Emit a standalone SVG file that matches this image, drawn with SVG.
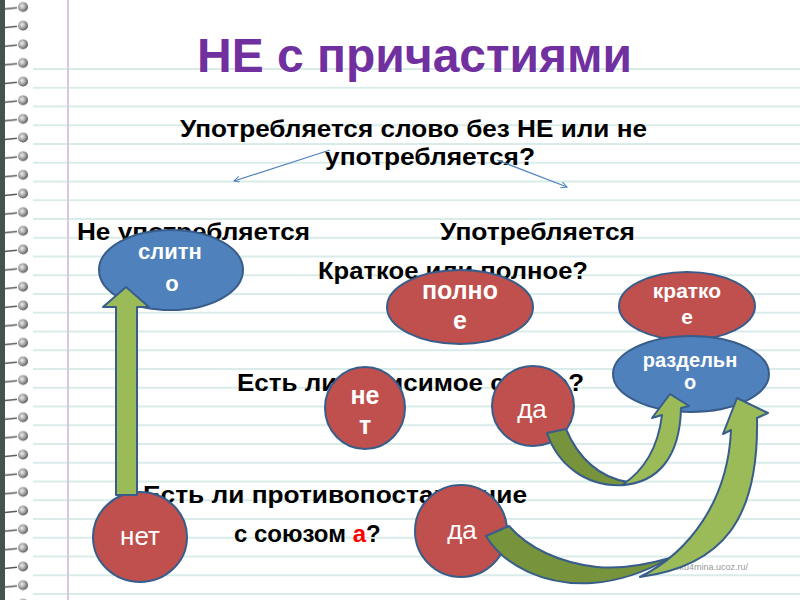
<svg xmlns="http://www.w3.org/2000/svg" width="800" height="600" viewBox="0 0 800 600">
<defs>
<style>
.t{font-family:"Liberation Sans",Arial,sans-serif;font-weight:bold;font-size:24px;fill:#000}
.lb{font-family:"Liberation Sans",Arial,sans-serif;fill:#fff;text-anchor:middle}
.b{font-weight:bold}
.red{fill:#c0504d;stroke:#385d8a;stroke-width:2}
.blue{fill:#4f81bd;stroke:#385d8a;stroke-width:2}
.gl{fill:#9bbb59;stroke:#385d8a;stroke-width:2;stroke-linejoin:round}
.gd{fill:#77933c;stroke:#385d8a;stroke-width:2;stroke-linejoin:round}
.thin{fill:none;stroke:#4f81bd;stroke-width:1.2;marker-end:url(#ah)}
</style>
<marker id="ah" markerWidth="8" markerHeight="8" refX="6" refY="3" orient="auto" markerUnits="userSpaceOnUse">
<path d="M0,0 L6,3 L0,6" fill="none" stroke="#4f81bd" stroke-width="1"/>
</marker>
<radialGradient id="ring" cx="0.4" cy="0.4" r="0.6">
<stop offset="0" stop-color="#eeeeee"/>
<stop offset="0.6" stop-color="#a0a0a0"/>
<stop offset="1" stop-color="#5a5a5a"/>
</radialGradient>
<pattern id="ruled" patternUnits="userSpaceOnUse" x="0" y="68" width="800" height="18.75">
<rect x="0" y="0" width="800" height="2" fill="#d9ecea"/>
</pattern>
<pattern id="spiral" patternUnits="userSpaceOnUse" x="0" y="-2.3" width="30" height="18.65">
<path d="M2,11.5 L17,10" stroke="#555" stroke-width="1.5"/>
<circle cx="23" cy="9.3" r="5" fill="url(#ring)"/>
</pattern>
</defs>

<g id="background">
<rect x="0" y="0" width="800" height="600" fill="#ffffff"/>
<rect x="33" y="68" width="767" height="532" fill="url(#ruled)"/>
<rect x="67" y="0" width="2" height="600" fill="#d9c8dc"/>
<rect x="0" y="0" width="30" height="600" fill="url(#spiral)"/>
<rect x="0" y="0" width="5" height="600" fill="#46524f"/>
</g>

<g id="texts">
<text x="197" y="72" textLength="435" lengthAdjust="spacingAndGlyphs" style="font-family:'Liberation Sans',Arial,sans-serif;font-weight:bold;font-size:48px;fill:#7030a0">НЕ с причастиями</text>
<text class="t" x="180" y="137" textLength="467" lengthAdjust="spacingAndGlyphs">Употребляется слово без НЕ или не</text>
<text class="t" x="325" y="165" textLength="210" lengthAdjust="spacingAndGlyphs">употребляется?</text>
<text class="t" x="77" y="240" textLength="233" lengthAdjust="spacingAndGlyphs">Не употребляется</text>
<text class="t" x="440" y="240" textLength="195" lengthAdjust="spacingAndGlyphs">Употребляется</text>
<text class="t" x="318" y="279" textLength="270" lengthAdjust="spacingAndGlyphs">Краткое или полное?</text>
<text class="t" x="237" y="391" textLength="347" lengthAdjust="spacingAndGlyphs">Есть ли зависимое слово?</text>
<text class="t" x="143" y="503" textLength="384" lengthAdjust="spacingAndGlyphs">Есть ли противопоставление</text>
<text class="t" x="234" y="542">с союзом <tspan fill="#ff0000">а</tspan>?</text>
<text x="657" y="570" style="font-family:'Liberation Sans',Arial,sans-serif;font-size:9px;fill:#999">http://ku4mina.ucoz.ru/</text>
</g>

<g id="connectors-thin">
<path class="thin" d="M330,150 L234,181"/>
<path class="thin" d="M497,160 L567,187"/>
</g>

<g id="node-slitno">
<ellipse class="blue" cx="171" cy="270" rx="72" ry="40"/>
<text class="lb b" x="170" y="259" font-size="22">слитн</text>
<text class="lb b" x="172" y="291" font-size="22">о</text>
</g>
<g id="node-polnoe">
<ellipse class="red" cx="460" cy="307" rx="73" ry="37"/>
<text class="lb b" x="460" y="299" font-size="25">полно</text>
<text class="lb b" x="460" y="329" font-size="25">е</text>
</g>
<g id="node-kratkoe">
<ellipse class="red" cx="687" cy="306" rx="68" ry="34"/>
<text class="lb b" x="687" y="298" font-size="21">кратко</text>
<text class="lb b" x="687" y="324" font-size="21">е</text>
</g>
<g id="node-razdelno">
<ellipse class="blue" cx="691" cy="374" rx="78" ry="38"/>
<text class="lb b" x="690" y="367" font-size="20">раздельн</text>
<text class="lb b" x="690" y="389" font-size="20">о</text>
</g>
<g id="node-net1">
<ellipse class="red" cx="365" cy="408" rx="40" ry="41"/>
<text class="lb b" x="365" y="404" font-size="25">не</text>
<text class="lb b" x="365" y="434" font-size="25">т</text>
</g>
<g id="node-da1">
<ellipse class="red" cx="533" cy="406" rx="41" ry="40"/>
<text class="lb" x="532" y="418" font-size="26">да</text>
</g>
<g id="node-net2">
<ellipse class="red" cx="140" cy="537" rx="47" ry="45"/>
<text class="lb" x="140" y="545" font-size="26">нет</text>
</g>
<g id="node-da2">
<ellipse class="red" cx="461" cy="531" rx="46" ry="46"/>
<text class="lb" x="462" y="539" font-size="26">да</text>
</g>

<g id="connectors">
<path class="gl" d="M116,495 L116,307 L103,307 L126,287 L149,307 L137,307 L137,495 Z"/>
<path class="gd" d="M547,433 C557,463 585,488 625,485 L628,482 C600,478 578,458 566,429 Z"/>
<path class="gl" d="M622,485 C657,483 680,458 681,408 L689,406 L670,394 L652,418 L662,415 C658,448 645,470 622,485 Z"/>
<path class="gd" d="M486,536 C504,566 545,586 592,583 C622,581 647,571 670,558 C642,566 617,569 597,567 C560,563 528,548 509,526 Z"/>
<path class="gl" d="M640,577 C722,566 759,520 757,418 L768,413 L737,398 L723,434 L731,430 C728,500 690,552 640,577 Z"/>
</g>
</svg>
